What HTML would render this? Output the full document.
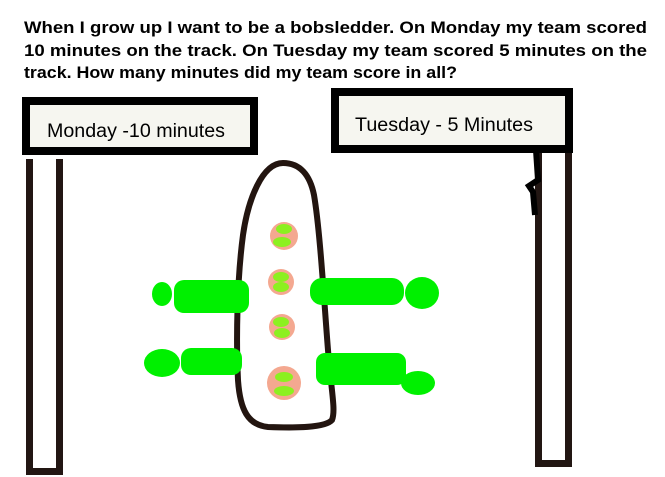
<!DOCTYPE html>
<html><head><style>
body{margin:0;background:#fff;width:665px;height:477px;overflow:hidden}
svg{display:block}
</style></head><body>
<svg width="665" height="477" viewBox="0 0 665 477" xmlns="http://www.w3.org/2000/svg" xml:space="preserve">
<rect width="665" height="477" fill="#fff"/>
<g font-family="Liberation Sans, sans-serif" font-weight="bold" font-size="17" fill="#000">
<text x="24" y="33" textLength="623" lengthAdjust="spacingAndGlyphs">When I grow up I want to be a bobsledder.  On Monday my team scored</text>
<text x="24" y="56" textLength="623" lengthAdjust="spacingAndGlyphs">10 minutes on the track.  On Tuesday my team scored 5 minutes on the</text>
<text x="24" y="78" textLength="433" lengthAdjust="spacingAndGlyphs">track.  How many minutes did my team score in all?</text>
</g>
<rect x="26" y="101" width="228" height="50" fill="#f6f6f0" stroke="#000" stroke-width="8"/>
<text x="47" y="137" font-family="Liberation Sans, sans-serif" font-size="19" fill="#000" textLength="178" lengthAdjust="spacingAndGlyphs">Monday -10 minutes</text>
<path d="M29.5 159 V471.5 H59.5 V159" fill="none" stroke="#221613" stroke-width="7"/>
<rect x="335" y="92" width="234" height="57" fill="#f6f6f0" stroke="#000" stroke-width="8"/>
<text x="355" y="131" font-family="Liberation Sans, sans-serif" font-size="19" fill="#000" textLength="178" lengthAdjust="spacingAndGlyphs">Tuesday - 5 Minutes</text>
<path d="M538.5 153 V463.5 H568.5 V153" fill="none" stroke="#221613" stroke-width="7"/>
<path d="M536 150 L538 180 L529 186 L533 192 L535 215" fill="none" stroke="#000" stroke-width="6"/>
<path d="M283 163 C300 163 310 175 314 195 C320 230 324 300 328 350 C331 390 336 410 332 420 C325 428 295 428 268 427 C248 425 240 410 238 380 C236 340 237 280 243 235 C248 200 262 163 283 163 Z" fill="#fff" stroke="#231510" stroke-width="6"/>
<g fill="#f4a890">
<circle cx="284" cy="236" r="14"/>
<circle cx="281" cy="282" r="13"/>
<circle cx="282" cy="327" r="13"/>
<circle cx="284" cy="383" r="17"/>
</g>
<g fill="#8cf020">
<ellipse cx="284" cy="229" rx="8" ry="5"/><ellipse cx="282" cy="242" rx="9" ry="5"/>
<ellipse cx="281" cy="277" rx="8" ry="5"/><ellipse cx="281" cy="287" rx="8" ry="5"/>
<ellipse cx="281" cy="322" rx="8" ry="5"/><ellipse cx="282" cy="333" rx="8" ry="5"/>
<ellipse cx="284" cy="377" rx="9" ry="5"/><ellipse cx="284" cy="391" rx="10" ry="5"/>
</g>
<g fill="#00f000">
<rect x="174" y="280" width="75" height="33" rx="10"/>
<ellipse cx="162" cy="294" rx="10" ry="12"/>
<rect x="181" y="348" width="61" height="27" rx="10"/>
<ellipse cx="162" cy="363" rx="18" ry="14"/>
<rect x="310" y="278" width="94" height="27" rx="12"/>
<ellipse cx="422" cy="293" rx="17" ry="16"/>
<rect x="316" y="353" width="90" height="32" rx="9"/>
<ellipse cx="418" cy="383" rx="17" ry="12"/>
</g>
</svg>
</body></html>
